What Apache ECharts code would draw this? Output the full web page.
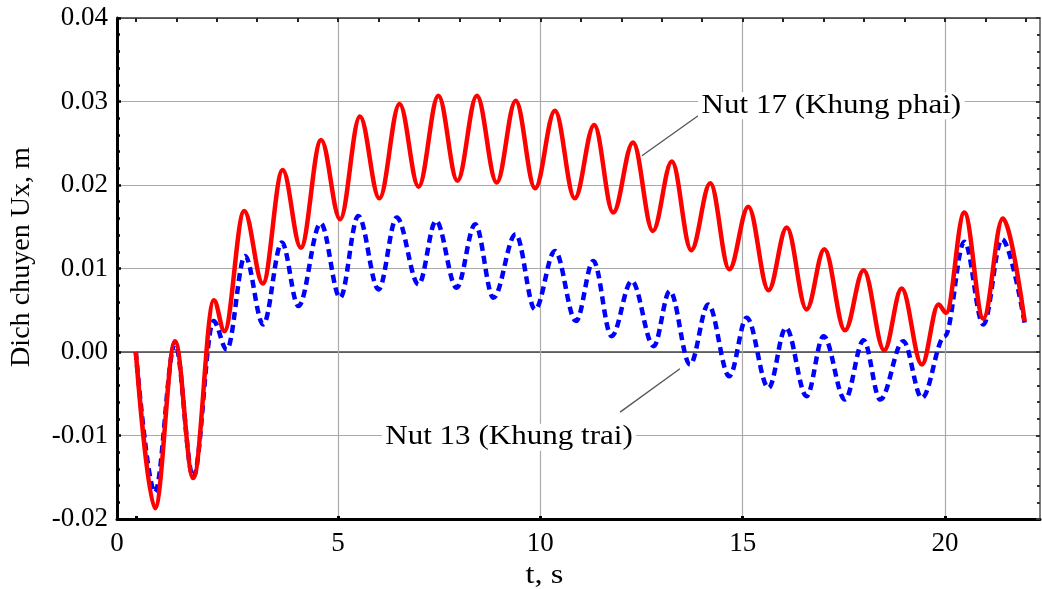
<!DOCTYPE html>
<html><head><meta charset="utf-8">
<script src="https://cdn.jsdelivr.net/npm/echarts@6/dist/echarts.min.js"></script>
<style>html,body{margin:0;padding:0;background:#fff}#c{width:1042px;height:589px}</style>
</head><body><div id="c"></div>
<script>
// ---- data ----
const tNut17 = [0, 0.475, 0.97, 1.42, 1.93, 2.19, 2.68, 3.14, 3.63, 4.08, 4.58, 5.05, 5.54, 6.02, 6.52, 6.99, 7.48, 7.95, 8.43, 8.92, 9.39, 9.87, 10.36, 10.85, 11.33, 11.8, 12.29, 12.78, 13.25, 13.73, 14.2, 14.67, 15.14, 15.64, 16.09, 16.58, 17.02, 17.53, 17.99, 18.5, 18.93, 19.43, 19.84, 20.03, 20.48, 20.95, 21.43, 21.97];
const uNut17 = [0, -0.0187, 0.0013, -0.0151, 0.0062, 0.0025, 0.0169, 0.0082, 0.0218, 0.0125, 0.0254, 0.0159, 0.0282, 0.0184, 0.0297, 0.0198, 0.0307, 0.0205, 0.0307, 0.0203, 0.0301, 0.0196, 0.0289, 0.0184, 0.0272, 0.0167, 0.0251, 0.0145, 0.0228, 0.0122, 0.0202, 0.0099, 0.0174, 0.0074, 0.0149, 0.0051, 0.0123, 0.0026, 0.0098, 0.0002, 0.0076, -0.0015, 0.0057, 0.0047, 0.0167, 0.0040, 0.0160, 0.0037];
const tNut13 = [0, 0.47, 0.97, 1.42, 1.92, 2.25, 2.7, 3.15, 3.61, 4.02, 4.57, 5.05, 5.5, 6.0, 6.45, 6.99, 7.42, 7.93, 8.39, 8.84, 9.39, 9.87, 10.36, 10.88, 11.31, 11.76, 12.26, 12.8, 13.2, 13.7, 14.15, 14.67, 15.1, 15.64, 16.07, 16.58, 17.0, 17.53, 17.99, 18.4, 18.97, 19.43, 20.0, 20.48, 20.95, 21.41, 21.97];
const uNut13 = [0, -0.0168, 0.0010, -0.0150, 0.0037, 0.0003, 0.0115, 0.0033, 0.0131, 0.0055, 0.0154, 0.0065, 0.0163, 0.0075, 0.0161, 0.0081, 0.0157, 0.0077, 0.0153, 0.0065, 0.0141, 0.0051, 0.0121, 0.0037, 0.0109, 0.0019, 0.0085, 0.0007, 0.0073, -0.0015, 0.0057, -0.0029, 0.0041, -0.0043, 0.0029, -0.0053, 0.0019, -0.0057, 0.0014, -0.0057, 0.0013, -0.0055, 0.0019, 0.0132, 0.0033, 0.0135, 0.0035];

const xRange = [-0.465, 22.35];
const yRange = [-0.02, 0.04];
const xMajorTicks = [0, 5, 10, 15, 20];
const xLabelValues = [-0.465, 5, 10, 15, 20];
const xLabelTexts = ['0', '5', '10', '15', '20'];
const xGridValues = [5, 10, 15, 20];
const xTopTicks = [0,1,2,3,4,5,6,7,8,9,10,11,12,13,14,15,16,17,18,19,20,21,22];
const seriesNames = ['Nut 17 (Khung phai)', 'Nut 13 (Khung trai)'];
const xName = 't, s';
const yName = 'Dich chuyen Ux, m';

// ---- chart ----
const FONT = "'Liberation Serif', 'Times New Roman', serif";
const pairs = (t, u) => t.map((v, i) => [v, u[i]]);

const baseX = { type: 'value', min: xRange[0], max: xRange[1], gridIndex: 0 };
const baseY = { type: 'value', min: yRange[0], max: yRange[1], interval: 0.01, gridIndex: 0 };

const option = {
  animation: false,
  backgroundColor: '#fff',
  grid: { left: 117, right: 2, top: 18, bottom: 70, containLabel: false },
  xAxis: [
    Object.assign({}, baseX, {
      position: 'bottom',
      axisLine: { onZero: false, lineStyle: { color: '#000', width: 3 } },
      axisTick: { inside: true, customValues: xMajorTicks, length: 3, lineStyle: { color: '#000', width: 3 } },
      axisLabel: {
        customValues: xLabelValues,
        formatter: v => xLabelTexts[xLabelValues.findIndex(a => Math.abs(a - v) < 1e-6)] ?? String(v),
        fontFamily: FONT, fontSize: 27, color: '#000', margin: 11
      },
      splitLine: { show: false }
    }),
    Object.assign({}, baseX, {
      position: 'top',
      axisLine: { onZero: false, lineStyle: { color: '#333', width: 1.5 } },
      axisTick: { inside: true, customValues: xTopTicks, length: 4, lineStyle: { color: '#222', width: 2 } },
      axisLabel: { show: false },
      splitLine: { show: false }
    }),
    Object.assign({}, baseX, {
      position: 'bottom',
      axisLine: { show: false, onZero: false },
      axisTick: { show: false, customValues: xGridValues },
      axisLabel: { show: false, customValues: xGridValues },
      splitLine: { show: true, lineStyle: { color: '#aaa', width: 1.2 } }
    })
  ],
  yAxis: [
    Object.assign({}, baseY, {
      position: 'left',
      axisLine: { onZero: false, lineStyle: { color: '#000', width: 3 } },
      axisTick: { inside: true, length: 4, lineStyle: { color: '#000', width: 2.5 } },
      minorTick: { show: true, splitNumber: 5, length: 3, lineStyle: { color: '#000', width: 2.5 } },
      axisLabel: { formatter: v => v.toFixed(2), fontFamily: FONT, fontSize: 27, color: '#000', margin: 9 },
      splitLine: { show: true, lineStyle: { color: '#aaa', width: 1.2 } }
    }),
    Object.assign({}, baseY, {
      position: 'right',
      axisLine: { onZero: false, lineStyle: { color: '#555', width: 1.5 } },
      axisTick: { inside: true, length: 4, lineStyle: { color: '#333', width: 2 } },
      minorTick: { show: true, splitNumber: 5, length: 3, lineStyle: { color: '#333', width: 2 } },
      axisLabel: { show: false },
      splitLine: { show: false }
    }),
    Object.assign({}, baseY, {
      position: 'left',
      axisLine: { show: false, onZero: false },
      axisTick: { show: false, customValues: [0] },
      axisLabel: { show: false, customValues: [0] },
      splitLine: { show: true, lineStyle: { color: '#444', width: 1.6 } }
    })
  ],
  series: [
    {
      name: seriesNames[1], type: 'line', xAxisIndex: 0, yAxisIndex: 0,
      data: pairs(tNut13, uNut13), showSymbol: false, smooth: 0.36, smoothMonotone: 'x',
      lineStyle: { color: '#0000ff', width: 4.5, type: [8, 5] }, z: 3
    },
    {
      name: seriesNames[0], type: 'line', xAxisIndex: 0, yAxisIndex: 0,
      data: pairs(tNut17, uNut17), showSymbol: false, smooth: 0.36, smoothMonotone: 'x',
      lineStyle: { color: '#ff0000', width: 4.5 }, z: 4
    }
  ]
};

const chart = echarts.init(document.getElementById('c'), null, { renderer: 'canvas' });
chart.setOption(option);

const px = p => chart.convertToPixel({ gridIndex: 0 }, p);
const annotations = [
  { text: seriesNames[0], textAt: [13.9, 0.0295], lineFrom: [12.51, 0.0235], lineTo: [13.9, 0.0283] },
  { text: seriesNames[1], textAt: [6.08, -0.0102], lineFrom: [11.97, -0.0072], lineTo: [13.45, -0.0020] }
];
const graphics = [];
annotations.forEach(a => {
  const p0 = px(a.lineFrom), p1 = px(a.lineTo), pt = px(a.textAt);
  graphics.push({ type: 'line', shape: { x1: p0[0], y1: p0[1], x2: p1[0], y2: p1[1] },
    style: { stroke: '#555', lineWidth: 1.3 }, z: 10 });
  graphics.push({ type: 'text', x: pt[0], y: pt[1], z: 11, scaleX: 1.15,
    style: { text: a.text, font: "27px " + FONT, fill: '#000', verticalAlign: 'middle', align: 'left',
      backgroundColor: '#fff', padding: [0, 3] } });
});
const xn = px([10, 0]);
graphics.push({ type: 'text', x: xn[0] + 4, y: 576, z: 11, scaleX: 1.2,
  style: { text: xName, font: "27px " + FONT, fill: '#000', align: 'center', verticalAlign: 'middle' } });
graphics.push({ type: 'text', x: 22, y: 257, z: 11, rotation: Math.PI / 2, scaleX: 1.04,
  style: { text: yName, font: "27px " + FONT, fill: '#000', align: 'center', verticalAlign: 'middle' } });
chart.setOption({ graphic: graphics });
</script>
</body></html>
